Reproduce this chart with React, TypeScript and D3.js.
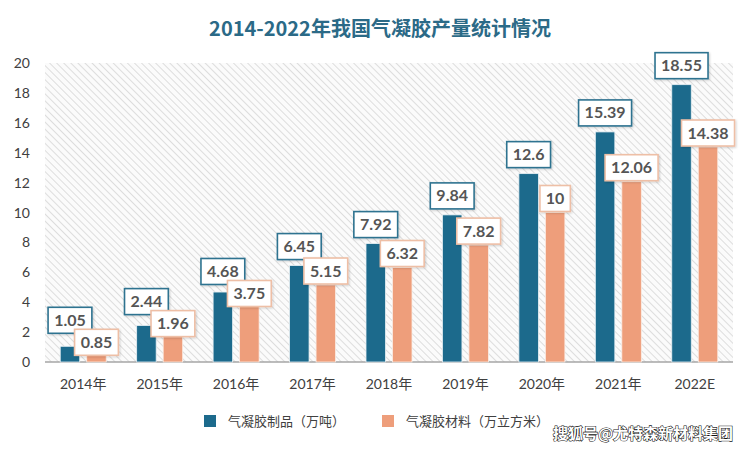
import React from "react";
import * as d3 from "d3";

const categories = ["2014年", "2015年", "2016年", "2017年", "2018年", "2019年", "2020年", "2021年", "2022E"];
const products = [1.05, 2.44, 4.68, 6.45, 7.92, 9.84, 12.6, 15.39, 18.55];
const materials = [0.85, 1.96, 3.75, 5.15, 6.32, 7.82, 10, 12.06, 14.38];
const productLabels = ["1.05", "2.44", "4.68", "6.45", "7.92", "9.84", "12.6", "15.39", "18.55"];
const materialLabels = ["0.85", "1.96", "3.75", "5.15", "6.32", "7.82", "10", "12.06", "14.38"];
const yTicks = [0, 2, 4, 6, 8, 10, 12, 14, 16, 18, 20];
const seriesNames = ["气凝胶制品（万吨）", "气凝胶材料（万立方米）"];
const title = "2014-2022年我国气凝胶产量统计情况";
const watermark = "搜狐号@尤特森新材料集团";

const W = 750;
const H = 450;
const left = 45;
const right = 733;
const top = 63;
const bottom = 362;

const BLUE = "#1c6a8c";
const ORANGE = "#ee9e7b";
const BLUE_BORDER = "#2f7390";
const ORANGE_BORDER = "#eebfa6";
const LABEL_FONT = "Lato, 'Open Sans', sans-serif";
const CJK = "'Noto Sans CJK SC', 'Noto Sans', sans-serif";
const BOX_H = 26;

function textWidth(s: string) {
  let w = 0;
  for (const c of s) w += c === "." ? 4.2 : 9.2;
  return w;
}

export default function App() {
  const x = d3.scaleBand<string>().domain(categories).range([left, right]).padding(0);
  const y = d3.scaleLinear().domain([0, 20]).range([bottom, top]);
  const barW = 19.5;
  const gap = 3.5;

  const renderLabel = (cx: number, boxBottom: number, text: string, border: string, key: string) => {
    const w = textWidth(text) + 12;
    const by = boxBottom - BOX_H;
    return (
      <g key={key}>
        <rect x={cx - w / 2} y={by} width={w} height={BOX_H} fill="#fff" stroke={border} strokeWidth={1.6} filter="url(#sh)" />
        <text
          x={cx}
          y={by + BOX_H / 2 + 5.5}
          textAnchor="middle"
          fontFamily={LABEL_FONT}
          fontWeight={700}
          fontSize={16}
          fill="#555"
        >
          {text}
        </text>
      </g>
    );
  };

  // label layout: default offsets above bar tops, then resolve blue/orange collisions within a group
  const layout = categories.map((c, i) => {
    let b = y(products[i]) - 6;
    let o = y(materials[i]) - 1;
    const v = b - (o - BOX_H + 4);
    if (v > 0) {
      b -= v / 2;
      o += v / 2;
    }
    return { b, o };
  });

  return (
    <svg width={W} height={H} style={{ position: "absolute", left: 0, top: 0, background: "#fff" }}>
      <defs>
        <pattern id="hatch" patternUnits="userSpaceOnUse" width={5} height={5} patternTransform="rotate(-45)">
          <rect width={5} height={5} fill="#fbfbfb" />
          <line x1={0} y1={0} x2={0} y2={5} stroke="#d6d6d6" strokeWidth={1.6} />
        </pattern>
        <filter id="sh" x="-20%" y="-20%" width="150%" height="150%">
          <feDropShadow dx={1} dy={1} stdDeviation={1} floodColor="#000" floodOpacity={0.18} />
        </filter>
      </defs>
      <text
        x={380}
        y={36}
        textAnchor="middle"
        fontFamily={CJK}
        fontWeight={700}
        fontSize={20}
        fill="#2b6a87"
      >
        {title}
      </text>
      <rect x={left} y={top} width={right - left} height={bottom - top} fill="url(#hatch)" />
      {yTicks.map((t) => (
        <text
          key={t}
          x={30}
          y={y(t) + 5}
          textAnchor="end"
          fontFamily={LABEL_FONT}
          fontSize={14}
          fill="#404040"
        >
          {t}
        </text>
      ))}
      <line x1={left} x2={right} y1={bottom} y2={bottom} stroke="#a6a6a6" strokeWidth={1.5} />
      {categories.map((c, i) => {
        const cx = (x(c) as number) + x.bandwidth() / 2;
        return (
          <g key={c}>
            <rect x={cx - gap - barW} y={y(products[i])} width={barW} height={bottom - y(products[i])} fill={BLUE} stroke="#e8f0f4" strokeWidth={0.8} />
            <rect x={cx + gap} y={y(materials[i])} width={barW} height={bottom - y(materials[i])} fill={ORANGE} stroke="#fbeee6" strokeWidth={0.8} />
            <text x={cx} y={389} textAnchor="middle" fontFamily={`Lato, ${CJK}`} fontSize={14} fill="#404040">
              {c}
            </text>
          </g>
        );
      })}
      {categories.map((c, i) => {
        const cx = (x(c) as number) + x.bandwidth() / 2;
        return renderLabel(cx - gap - barW / 2, layout[i].b, productLabels[i], BLUE_BORDER, "p" + c);
      })}
      {categories.map((c, i) => {
        const cx = (x(c) as number) + x.bandwidth() / 2;
        return renderLabel(cx + gap + barW / 2, layout[i].o, materialLabels[i], ORANGE_BORDER, "m" + c);
      })}
      <rect x={204} y={415} width={12} height={12} fill={BLUE} />
      <text x={228} y={426} fontFamily={CJK} fontSize={13} fill="#404040">
        {seriesNames[0]}
      </text>
      <rect x={382} y={415} width={12} height={12} fill={ORANGE} />
      <text x={406} y={426} fontFamily={CJK} fontSize={13} fill="#404040">
        {seriesNames[1]}
      </text>
      <text
        x={553}
        y={439}
        fontFamily={CJK}
        fontSize={15}
        fontWeight={700}
        fill="#fff"
        stroke="#111"
        strokeWidth={1.1}
        paintOrder="stroke"
      >
        {watermark}
      </text>
    </svg>
  );
}
